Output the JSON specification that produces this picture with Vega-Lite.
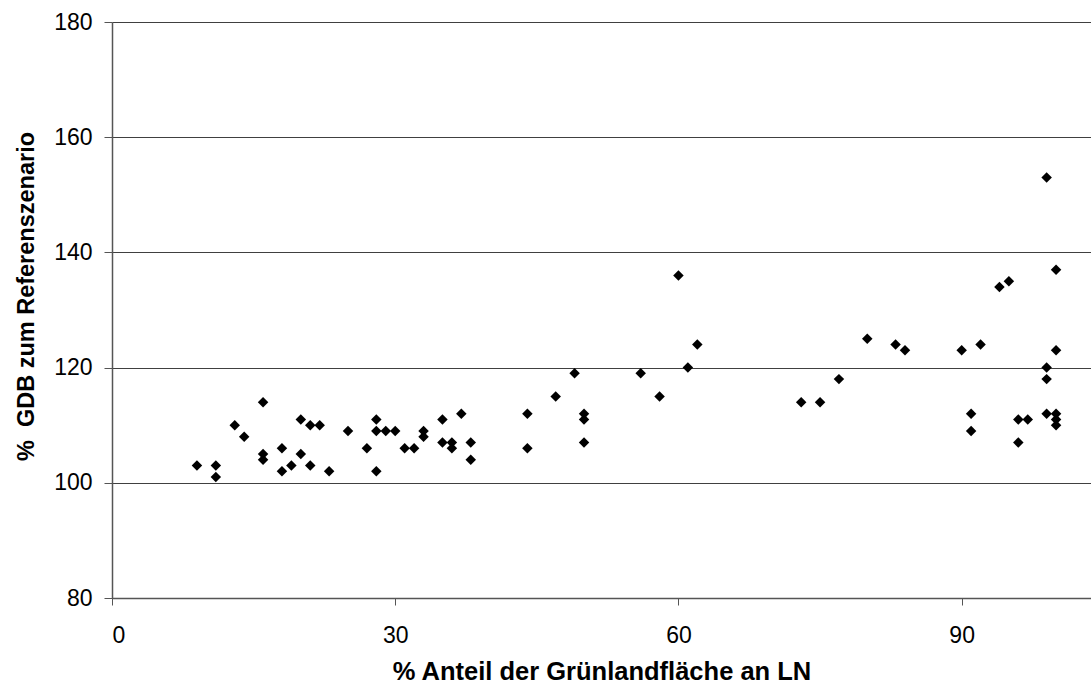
{
  "$schema": "https://vega.github.io/schema/vega-lite/v6.json",
  "width": 979,
  "height": 576,
  "autosize": {"type": "none"},
  "padding": {"left": 112, "top": 22, "right": 0, "bottom": 86},
  "background": "white",
  "config": {
    "view": {"stroke": null},
    "font": "Liberation Sans"
  },
  "data": {
    "values": [
      {"x": 9, "y": 103}, {"x": 11, "y": 103}, {"x": 11, "y": 101}, {"x": 13, "y": 110}, {"x": 14, "y": 108},
      {"x": 16, "y": 114}, {"x": 16, "y": 105}, {"x": 16, "y": 104}, {"x": 18, "y": 106}, {"x": 18, "y": 102},
      {"x": 19, "y": 103}, {"x": 20, "y": 111}, {"x": 20, "y": 105}, {"x": 21, "y": 110}, {"x": 21, "y": 103},
      {"x": 22, "y": 110}, {"x": 23, "y": 102}, {"x": 25, "y": 109}, {"x": 27, "y": 106}, {"x": 28, "y": 111},
      {"x": 28, "y": 109}, {"x": 28, "y": 102}, {"x": 29, "y": 109}, {"x": 30, "y": 109}, {"x": 31, "y": 106},
      {"x": 32, "y": 106}, {"x": 33, "y": 109}, {"x": 33, "y": 108}, {"x": 35, "y": 111}, {"x": 35, "y": 107},
      {"x": 36, "y": 107}, {"x": 36, "y": 106}, {"x": 37, "y": 112}, {"x": 38, "y": 107}, {"x": 38, "y": 104},
      {"x": 44, "y": 112}, {"x": 44, "y": 106}, {"x": 47, "y": 115}, {"x": 49, "y": 119}, {"x": 50, "y": 112},
      {"x": 50, "y": 111}, {"x": 50, "y": 107}, {"x": 56, "y": 119}, {"x": 58, "y": 115}, {"x": 60, "y": 136},
      {"x": 61, "y": 120}, {"x": 62, "y": 124}, {"x": 73, "y": 114}, {"x": 75, "y": 114}, {"x": 77, "y": 118},
      {"x": 80, "y": 125}, {"x": 83, "y": 124}, {"x": 84, "y": 123}, {"x": 90, "y": 123}, {"x": 91, "y": 112},
      {"x": 91, "y": 109}, {"x": 92, "y": 124}, {"x": 94, "y": 134}, {"x": 95, "y": 135}, {"x": 96, "y": 111},
      {"x": 96, "y": 107}, {"x": 97, "y": 111}, {"x": 99, "y": 153}, {"x": 99, "y": 120}, {"x": 99, "y": 118},
      {"x": 99, "y": 112}, {"x": 100, "y": 137}, {"x": 100, "y": 123}, {"x": 100, "y": 112}, {"x": 100, "y": 111},
      {"x": 100, "y": 110}
    ]
  },
  "mark": {"type": "point", "shape": "diamond", "filled": true, "color": "black", "opacity": 1, "size": 110},
  "encoding": {
    "x": {
      "field": "x",
      "type": "quantitative",
      "scale": {"domain": [0, 103.7], "nice": false, "zero": false},
      "axis": {
        "title": "% Anteil der Grünlandfläche an LN",
        "values": [0, 30, 60, 90],
        "grid": false,
        "domainColor": "#555555",
        "domainWidth": 1.5,
        "tickColor": "#555555",
        "tickSize": 7,
        "labelFontSize": 23,
        "labelColor": "black",
        "labelPadding": 19,
        "labelFont": "Liberation Sans",
        "titleFont": "Liberation Sans",
        "titleFontSize": 25.5,
        "titleFontWeight": "bold",
        "titleColor": "black",
        "titleBaseline": "alphabetic",
        "titleY": 81
      }
    },
    "y": {
      "field": "y",
      "type": "quantitative",
      "scale": {"domain": [80, 180], "nice": false, "zero": false},
      "axis": {
        "title": "% \u00a0GDB zum Referenszenario",
        "values": [80, 100, 120, 140, 160, 180],
        "grid": true,
        "gridColor": "#404040",
        "gridWidth": 1,
        "domainColor": "#555555",
        "domainWidth": 1.5,
        "tickColor": "#555555",
        "tickSize": 8,
        "labelFontSize": 23,
        "labelColor": "black",
        "labelPadding": 12,
        "labelFont": "Liberation Sans",
        "titleFont": "Liberation Sans",
        "titleFontSize": 23.5,
        "titleFontWeight": "bold",
        "titleColor": "black",
        "titleBaseline": "alphabetic",
        "titleAngle": -90,
        "titleX": -79,
        "titleY": 274
      }
    }
  }
}
